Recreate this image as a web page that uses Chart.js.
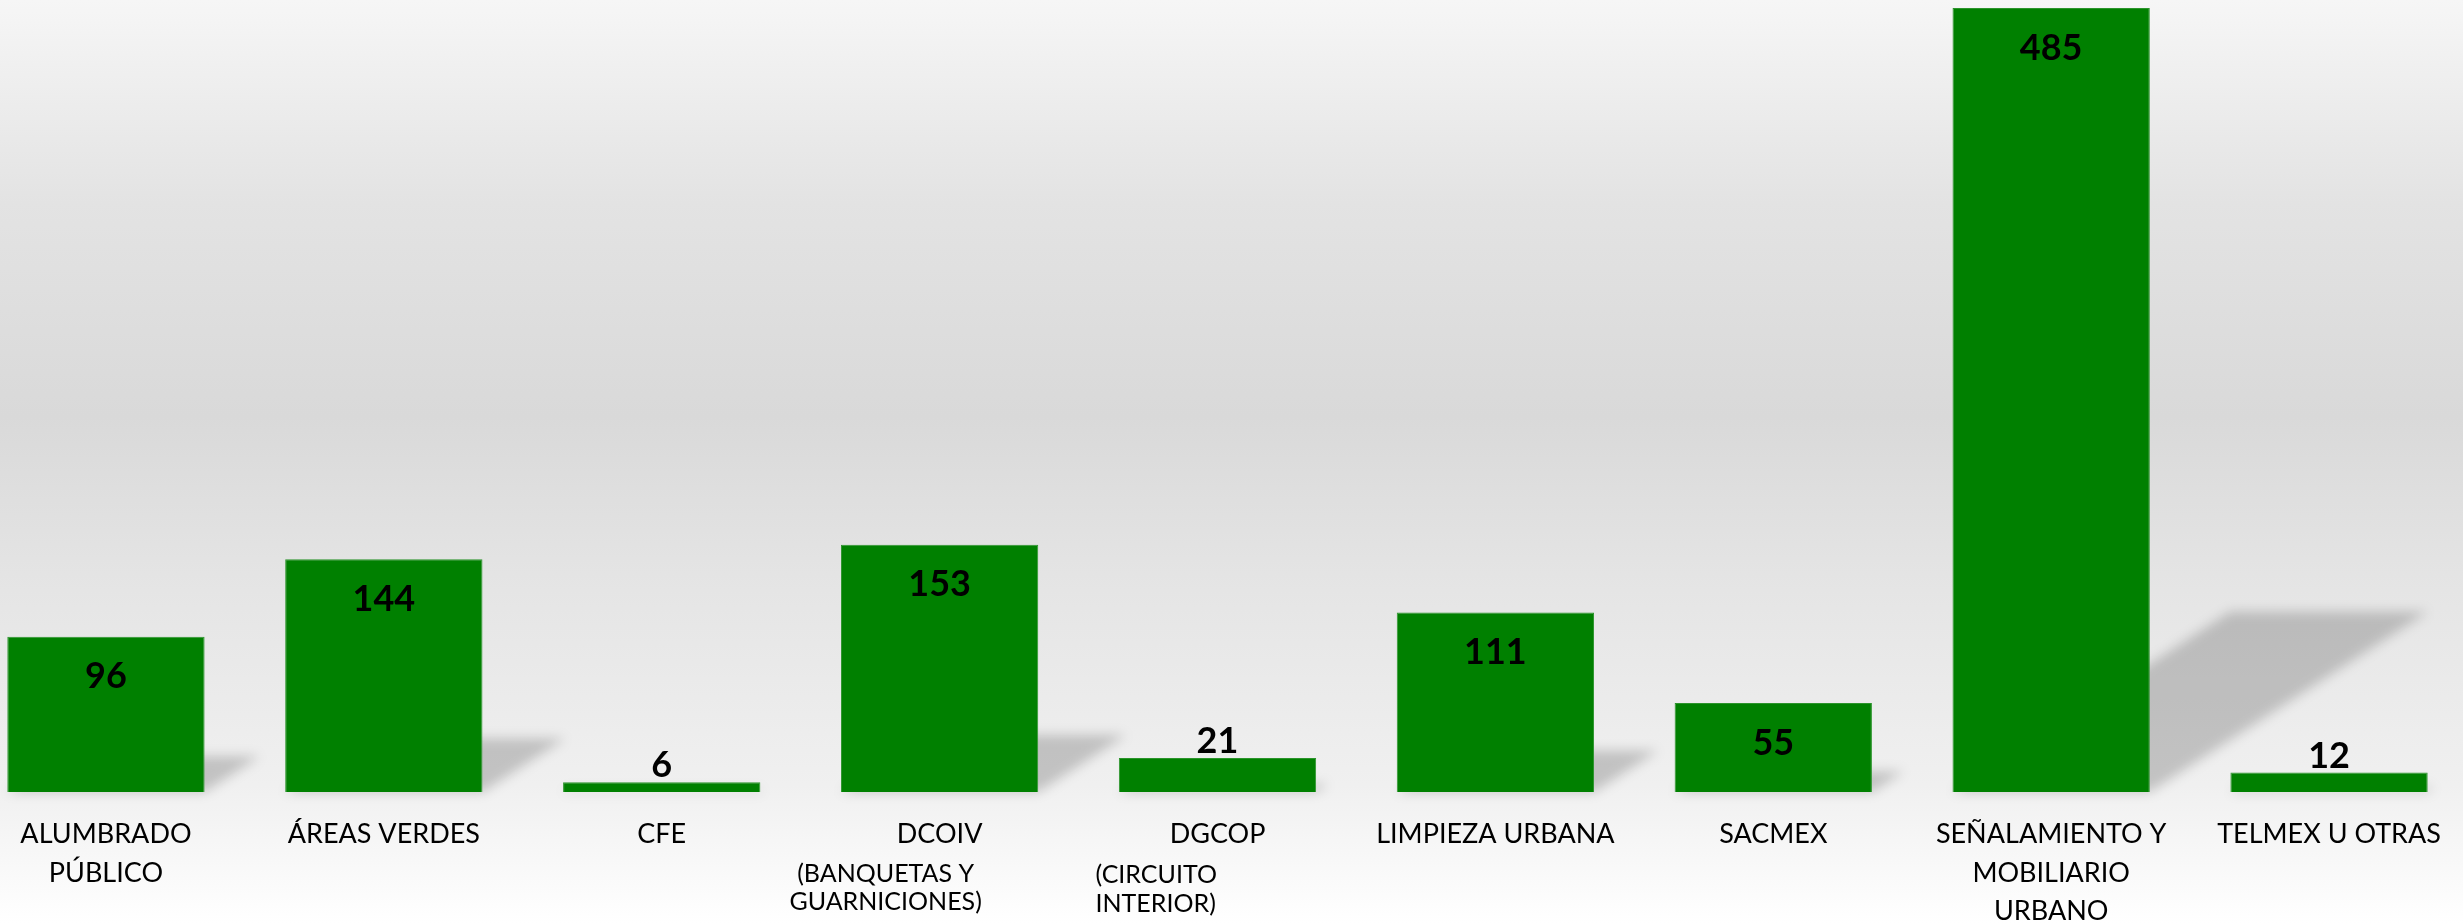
<!DOCTYPE html>
<html>
<head>
<meta charset="utf-8">
<script src="https://cdn.jsdelivr.net/npm/chart.js@4"></script>
<style>
  html, body { margin: 0; padding: 0; }
  body {
    width: 2463px; height: 924px; overflow: hidden; position: relative;
    background: linear-gradient(to bottom, #f6f6f6 0%, #e3e3e3 22%, #d9d9d9 45%, #e4e4e4 62%, #f0f0f0 85%, #ffffff 100%);
  }
  #grafica { position: absolute; left: -33px; top: 0; }
</style>
</head>
<body>
<canvas id="grafica" width="2501" height="924"></canvas>
<script>
// categorias (eje x)
const categorias = [
  ["ALUMBRADO", "PÚBLICO"],
  "ÁREAS VERDES",
  "CFE",
  "DCOIV",
  "DGCOP",
  "LIMPIEZA URBANA",
  "SACMEX",
  ["SEÑALAMIENTO Y", "MOBILIARIO", "URBANO"],
  "TELMEX U OTRAS"
];
// texto pequeño debajo de algunas categorias
const subtitulos = [
  [], [], [],
  ["(BANQUETAS Y", "GUARNICIONES)"],
  ["(CIRCUITO", "INTERIOR)"],
  [], [], [], []
];
const valores = [96, 144, 6, 153, 21, 111, 55, 485, 12];

const fuente = 'Lato, "Open Sans", sans-serif';

// sombra en perspectiva detras de cada barra
const sombras = {
  id: "sombras",
  beforeDatasetsDraw(chart) {
    const ctx = chart.ctx;
    const meta = chart.getDatasetMeta(0);
    ctx.save();
    ctx.filter = "blur(6px)";
    ctx.fillStyle = "rgba(0,0,0,0.19)";
    meta.data.forEach((bar) => {
      const x1 = bar.x - bar.width / 2;
      const x2 = bar.x + bar.width / 2;
      const h = (bar.base - bar.y) * 0.23;
      const dx = h * 1.54;
      ctx.beginPath();
      ctx.moveTo(x1, bar.base);
      ctx.lineTo(x2, bar.base);
      ctx.lineTo(x2 + dx, bar.base - h);
      ctx.lineTo(x1 + dx, bar.base - h);
      ctx.closePath();
      ctx.fill();
    });
    ctx.restore();
  }
};

// etiquetas de valor
const etiquetas = {
  id: "etiquetas",
  afterDatasetsDraw(chart) {
    const ctx = chart.ctx;
    const meta = chart.getDatasetMeta(0);
    ctx.save();
    ctx.font = "bold 36px " + fuente;
    ctx.fillStyle = "#000";
    ctx.textAlign = "center";
    meta.data.forEach((bar, i) => {
      const alto = bar.base - bar.y;
      if (alto < 60) {
        ctx.textBaseline = "alphabetic";
        ctx.fillText(valores[i], bar.x, bar.y - 5);
      } else {
        ctx.textBaseline = "middle";
        ctx.fillText(valores[i], bar.x, bar.y + 40);
      }
    });
    ctx.restore();
  }
};

// subtitulos (DCOIV centrado, DGCOP alineado a la izquierda)
const textosExtra = {
  id: "textosExtra",
  afterDraw(chart) {
    const ctx = chart.ctx;
    const xs = chart.scales.x;
    ctx.save();
    ctx.font = "25px " + fuente;
    ctx.fillStyle = "#000";
    ctx.textBaseline = "alphabetic";
    subtitulos.forEach((lineas, i) => {
      if (!lineas.length) return;
      const cx = xs.getPixelForValue(i);
      lineas.forEach((t, j) => {
        if (i === 3) {
          ctx.textAlign = "center";
          ctx.fillText(t, cx - 54, 882 + j * 28);
        } else {
          ctx.textAlign = "left";
          ctx.fillText(t, cx - 122, 883 + j * 29);
        }
      });
    });
    ctx.restore();
  }
};

new Chart(document.getElementById("grafica"), {
  type: "bar",
  data: {
    labels: categorias,
    datasets: [
      {
        data: valores,
        backgroundColor: "#008000",
        borderColor: "#2b942b",
        borderWidth: 1,
        barPercentage: 0.71,
        categoryPercentage: 1
      }
    ]
  },
  options: {
    responsive: false,
    animation: false,
    devicePixelRatio: 1,
    layout: { padding: 0 },
    plugins: {
      legend: { display: false },
      tooltip: { enabled: false }
    },
    scales: {
      y: {
        display: false,
        min: 0,
        max: 490
      },
      x: {
        grid: { display: false, drawTicks: false },
        border: { display: false },
        ticks: {
          autoSkip: false,
          maxRotation: 0,
          padding: 23,
          color: "#000",
          font: { family: fuente, size: 27, lineHeight: 1.43 }
        },
        afterFit(scale) {
          scale.height = 132;
        }
      }
    }
  },
  plugins: [sombras, etiquetas, textosExtra]
});
</script>
</body>
</html>
